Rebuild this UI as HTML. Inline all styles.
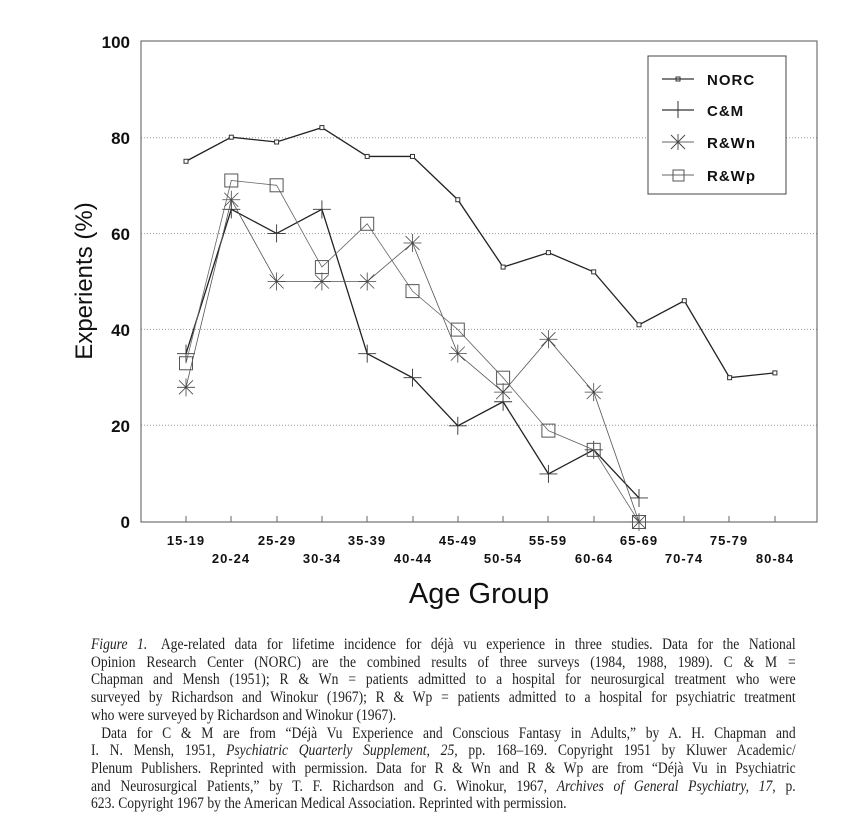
<!DOCTYPE html>
<html><head><meta charset="utf-8"><style>
body{margin:0;background:#fff;width:860px;height:837px;overflow:hidden;position:relative}
.cap{position:absolute;left:91px;top:636px;width:829px;transform:scaleX(0.85);transform-origin:0 0;font-family:"Liberation Serif",serif;font-size:16px;line-height:17.7px;color:#222}
.cap div{white-space:nowrap;text-align:justify;text-align-last:justify}
.cap div.l{text-align-last:left}
.sp{display:inline-block;width:16px}
</style></head><body>
<svg width="860" height="620" style="position:absolute;left:0;top:0" font-family="Liberation Sans, sans-serif">
<g stroke="#999" stroke-dasharray="1,2" stroke-width="1">
<line x1="141" y1="137.8" x2="817" y2="137.8"/><line x1="141" y1="233.6" x2="817" y2="233.6"/>
<line x1="141" y1="329.4" x2="817" y2="329.4"/><line x1="141" y1="425.2" x2="817" y2="425.2"/>
<line x1="141" y1="41" x2="817" y2="41"/>
</g>
<rect x="141" y="41" width="676" height="481" fill="none" stroke="#555" stroke-width="1"/>
<g font-size="17" font-weight="bold" text-anchor="end" fill="#111">
<text x="130" y="48">100</text><text x="130" y="144">80</text><text x="130" y="240">60</text><text x="130" y="336">40</text><text x="130" y="432">20</text><text x="130" y="528">0</text>
</g>
<text transform="translate(92,281) rotate(-90)" font-size="24" text-anchor="middle" fill="#111">Experients (%)</text>
<g font-size="13" font-weight="bold" text-anchor="middle" fill="#111" letter-spacing="1">
<text x="186" y="545">15-19</text><text x="231" y="563">20-24</text><text x="277" y="545">25-29</text><text x="322" y="563">30-34</text><text x="367" y="545">35-39</text><text x="413" y="563">40-44</text><text x="458" y="545">45-49</text><text x="503" y="563">50-54</text><text x="548" y="545">55-59</text><text x="594" y="563">60-64</text><text x="639" y="545">65-69</text><text x="684" y="563">70-74</text><text x="729" y="545">75-79</text><text x="775" y="563">80-84</text>
</g>
<g stroke="#666"><path d="M186 522v-6M231 522v-6M277 522v-6M322 522v-6M367 522v-6M413 522v-6M458 522v-6M503 522v-6M548 522v-6M594 522v-6M639 522v-6M684 522v-6M729 522v-6M775 522v-6"/></g>
<text x="479" y="603" font-size="29" text-anchor="middle" fill="#111">Age Group</text>
<g id="plot"></g>
<rect x="648" y="56" width="138" height="138" fill="#fff" stroke="#444"/>
<g stroke="#333" stroke-width="1.3"><line x1="662" y1="79" x2="694" y2="79"/><line x1="662" y1="110" x2="694" y2="110"/></g>
<g stroke="#666" stroke-width="0.9"><line x1="662" y1="142" x2="694" y2="142"/><line x1="662" y1="175" x2="694" y2="175"/></g>
<rect x="676" y="77" width="4" height="4" fill="none" stroke="#333"/>
<line x1="678" y1="101" x2="678" y2="118" stroke="#333"/>
<path d="M671 135l14 14M685 135l-14 14M678 134v16" stroke="#444" stroke-width="0.9"/>
<rect x="673" y="170" width="11" height="11" fill="none" stroke="#555"/>
<g font-size="15" font-weight="bold" fill="#111" letter-spacing="1"><text x="707" y="85">NORC</text><text x="707" y="116">C&amp;M</text><text x="707" y="148">R&amp;Wn</text><text x="707" y="181">R&amp;Wp</text></g>
</svg>
<script>
const X=i=>186+i*45.3, Y=v=>522-v*4.81;
const S=[
{d:[75,80,79,82,76,76,67,53,56,52,41,46,30,31],w:1.3,c:'#222',m:'sq'},
{d:[35,65,60,65,35,30,20,25,10,15,5],w:1.3,c:'#222',m:'plus'},
{d:[28,67,50,50,50,58,35,27,38,27,0],w:0.8,c:'#555',m:'star'},
{d:[33,71,70,53,62,48,40,30,19,15,0],w:0.8,c:'#666',m:'box'}];
let h='';
for(const s of S){
 h+=`<polyline fill="none" stroke="${s.c}" stroke-width="${s.w}" points="${s.d.map((v,i)=>X(i)+','+Y(v)).join(' ')}"/>`;
 s.d.forEach((v,i)=>{const x=X(i),y=Y(v);
  if(s.m=='sq')h+=`<rect x="${x-2}" y="${y-2}" width="4" height="4" fill="#fff" stroke="#333"/>`;
  if(s.m=='plus')h+=`<path d="M${x-9} ${y}h18M${x} ${y-9}v18" stroke="#333" stroke-width="0.9"/>`;
  if(s.m=='star')h+=`<path d="M${x-7} ${y-7}l14 14M${x+7} ${y-7}l-14 14M${x} ${y-9}v18M${x-9} ${y}h18" stroke="#444" stroke-width="0.8"/>`;
  if(s.m=='box')h+=`<rect x="${x-6.5}" y="${y-6.5}" width="13" height="13" fill="none" stroke="#555"/>`;
 });
}
document.getElementById('plot').innerHTML=h;
</script>
<div class="cap">
<div><i>Figure 1.</i><span class="sp"></span>Age-related data for lifetime incidence for déjà vu experience in three studies. Data for the National</div>
<div>Opinion Research Center (NORC) are the combined results of three surveys (1984, 1988, 1989). C &amp; M =</div>
<div>Chapman and Mensh (1951); R &amp; Wn = patients admitted to a hospital for neurosurgical treatment who were</div>
<div>surveyed by Richardson and Winokur (1967); R &amp; Wp = patients admitted to a hospital for psychiatric treatment</div>
<div class="l">who were surveyed by Richardson and Winokur (1967).</div>
<div><span class="sp" style="width:12px"></span>Data for C &amp; M are from “Déjà Vu Experience and Conscious Fantasy in Adults,” by A. H. Chapman and</div>
<div>I. N. Mensh, 1951, <i>Psychiatric Quarterly Supplement, 25,</i> pp. 168–169. Copyright 1951 by Kluwer Academic/</div>
<div>Plenum Publishers. Reprinted with permission. Data for R &amp; Wn and R &amp; Wp are from “Déjà Vu in Psychiatric</div>
<div>and Neurosurgical Patients,” by T. F. Richardson and G. Winokur, 1967, <i>Archives of General Psychiatry, 17,</i> p.</div>
<div class="l">623. Copyright 1967 by the American Medical Association. Reprinted with permission.</div>
</div>
</body></html>
